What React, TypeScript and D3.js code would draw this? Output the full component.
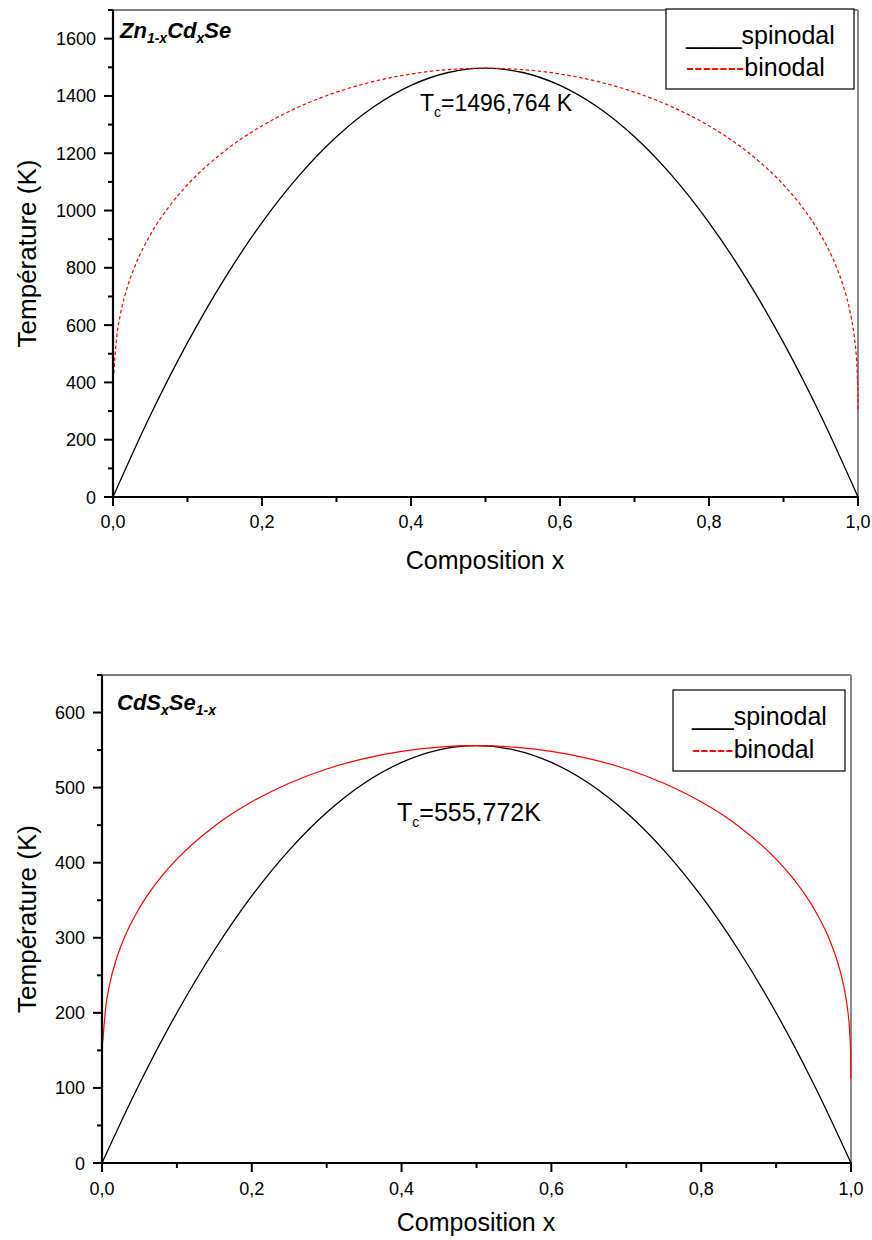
import React from 'react';
import * as d3 from 'd3';

// ---------- data ----------
const spinodalX = [0, 0.05, 0.1, 0.15, 0.2, 0.25, 0.3, 0.35, 0.4, 0.45, 0.5, 0.55, 0.6, 0.65, 0.7, 0.75, 0.8, 0.85, 0.9, 0.95, 1.0];
const spinodalZnCdSe = [0, 284.4, 538.8, 763.3, 957.9, 1122.6, 1257.3, 1362.1, 1436.9, 1481.8, 1496.8, 1481.8, 1436.9, 1362.1, 1257.3, 1122.6, 957.9, 763.3, 538.8, 284.4, 0];
const spinodalCdSSe = [0, 105.6, 200.1, 283.4, 355.7, 416.8, 466.8, 505.8, 533.5, 550.2, 555.8, 550.2, 533.5, 505.8, 466.8, 416.8, 355.7, 283.4, 200.1, 105.6, 0];

const binodalX = [0.001, 0.005, 0.01, 0.02, 0.03, 0.05, 0.075, 0.1, 0.15, 0.2, 0.25, 0.3, 0.35, 0.4, 0.45, 0.5, 0.55, 0.6, 0.65, 0.7, 0.75, 0.8, 0.85, 0.9, 0.925, 0.95, 0.97, 0.98, 0.99, 0.995, 0.998, 0.9995, 0.99995];
const binodalZnCdSe = [432.6, 559.9, 638.4, 738.4, 809.5, 915.0, 1012.8, 1089.9, 1208.0, 1295.6, 1362.4, 1413.2, 1450.7, 1476.6, 1491.8, 1496.8, 1491.8, 1476.6, 1450.7, 1413.2, 1362.4, 1295.6, 1208.0, 1089.9, 1012.8, 915.0, 809.5, 738.4, 638.4, 559.9, 479.9, 393.5, 302.2];
const binodalCdSSe = [160.6, 207.9, 237.1, 274.2, 300.6, 339.8, 376.1, 404.7, 448.6, 481.1, 505.9, 524.8, 538.7, 548.3, 553.9, 555.8, 553.9, 548.3, 538.7, 524.8, 505.9, 481.1, 448.6, 404.7, 376.1, 339.8, 300.6, 274.2, 237.1, 207.9, 178.2, 146.1, 112.2];

const xMajorTicks = [0, 0.2, 0.4, 0.6, 0.8, 1.0];
const xTickLabels = ['0,0', '0,2', '0,4', '0,6', '0,8', '1,0'];
const xMinorTicks = [0.1, 0.3, 0.5, 0.7, 0.9];

const yMajorTop = [0, 200, 400, 600, 800, 1000, 1200, 1400, 1600];
const yMinorTop = [100, 300, 500, 700, 900, 1100, 1300, 1500, 1700];
const yMajorBottom = [0, 100, 200, 300, 400, 500, 600];
const yMinorBottom = [50, 150, 250, 350, 450, 550, 650];

const FONT = '"Liberation Sans", Arial, Helvetica, sans-serif';

type PanelProps = {
  left: number; right: number; top: number; bottom: number;
  yMax: number;
  yMajor: number[]; yMinor: number[];
  spin: number[]; bin: number[];
  dashed: boolean;
  title: React.ReactNode;
  legend: {
    x: number; y1: number; y2: number; box: [number, number, number, number];
    under: string; dash: string;
  };
  tc: { x: number; y: number; value: string; size: number };
  xLabelY: number;
  xTitleX: number; xTitleY: number;
};

function Panel(p: PanelProps) {
  const x = d3.scaleLinear().domain([0, 1]).range([p.left, p.right]);
  const y = d3.scaleLinear().domain([0, p.yMax]).range([p.bottom, p.top]);
  const spinLine = d3.line<number>().x((_, i) => x(spinodalX[i])).y(d => y(d)).curve(d3.curveCatmullRom.alpha(0.5));
  const binLine = d3.line<number>().x((_, i) => x(binodalX[i])).y(d => y(d)).curve(d3.curveMonotoneX);
  const [bx, by, bw, bh] = p.legend.box;
  const L = p.legend;
  return (
    <g fontFamily={FONT}>
      {/* frame top/right */}
      <line x1={p.left} x2={p.right} y1={p.top} y2={p.top} stroke="#555" strokeWidth={1.3} />
      <line x1={p.right} x2={p.right} y1={p.top} y2={p.bottom} stroke="#888" strokeWidth={2} />
      {/* curves */}
      <path d={spinLine(p.spin) || ''} fill="none" stroke="#000" strokeWidth={1.3} />
      <path d={binLine(p.bin) || ''} fill="none" stroke="#ff0000" strokeWidth={1.2} strokeDasharray={p.dashed ? '3.5,2.5' : undefined} />
      {/* axes */}
      <line x1={p.left} x2={p.right + 1} y1={p.bottom} y2={p.bottom} stroke="#000" strokeWidth={2.2} />
      <line x1={p.left} x2={p.left} y1={p.top} y2={p.bottom + 1} stroke="#000" strokeWidth={2.2} />
      {xMajorTicks.map((t, i) => (
        <g key={'xm' + i}>
          <line x1={x(t)} x2={x(t)} y1={p.bottom} y2={p.bottom + 9} stroke="#000" strokeWidth={2} />
          <text x={x(t)} y={p.xLabelY} fontSize={18} textAnchor="middle">{xTickLabels[i]}</text>
        </g>
      ))}
      {xMinorTicks.map((t, i) => (
        <line key={'xn' + i} x1={x(t)} x2={x(t)} y1={p.bottom} y2={p.bottom + 5} stroke="#000" strokeWidth={2} />
      ))}
      {p.yMajor.map((t, i) => (
        <g key={'ym' + i}>
          <line x1={p.left - 9} x2={p.left} y1={y(t)} y2={y(t)} stroke="#000" strokeWidth={2} />
          <text x={p.left - 17} y={y(t) + 6.5} fontSize={18} textAnchor="end">{String(t)}</text>
        </g>
      ))}
      {p.yMinor.map((t, i) => (
        <line key={'yn' + i} x1={p.left - 5} x2={p.left} y1={y(t)} y2={y(t)} stroke="#000" strokeWidth={2} />
      ))}
      {/* axis titles */}
      <text x={p.xTitleX} y={p.xTitleY} fontSize={25} textAnchor="middle">Composition x</text>
      <text transform={`translate(36,${(p.top + p.bottom) / 2}) rotate(-90)`} fontSize={26} textAnchor="middle">Température (K)</text>
      {/* title */}
      {p.title}
      {/* Tc label */}
      <text x={p.tc.x} y={p.tc.y} fontSize={p.tc.size}>
        T<tspan fontSize={14} dy={6}>c</tspan><tspan dy={-6}>{p.tc.value}</tspan>
      </text>
      {/* legend */}
      <rect x={bx} y={by} width={bw} height={bh} fill="#fff" stroke="#000" strokeWidth={1.2} />
      <text x={L.x} y={L.y1} fontSize={25} fill="#000">{L.under + 'spinodal'}</text>
      <text x={L.x} y={L.y2} fontSize={25} fill="#000">
        <tspan fill="#ff0000">{L.dash}</tspan>binodal
      </text>
    </g>
  );
}

export default function App() {
  return (
    <svg width={872} height={1240} style={{ position: 'absolute', left: 0, top: 0, background: '#fff' }}>
      <rect x={0} y={0} width={872} height={1240} fill="#fff" />
      <Panel
        left={113} right={858} top={10} bottom={497} yMax={1700}
        yMajor={yMajorTop} yMinor={yMinorTop}
        spin={spinodalZnCdSe} bin={binodalZnCdSe} dashed={true}
        title={
          <text x={120} y={38} fontSize={22} fontWeight="bold" fontStyle="italic" fontFamily={FONT}>
            Zn<tspan fontSize={14} dy={5}>1-x</tspan><tspan dy={-5}>Cd</tspan><tspan fontSize={14} dy={5}>x</tspan><tspan dy={-5}>Se</tspan>
          </text>
        }
        legend={{ x: 686, y1: 44, y2: 76, box: [666, 9, 188, 80], under: '____', dash: '-------' }}
        tc={{ x: 420, y: 111, value: '=1496,764 K', size: 23 }}
        xLabelY={528} xTitleX={485} xTitleY={569}
      />
      <Panel
        left={102} right={851} top={675} bottom={1163} yMax={650}
        yMajor={yMajorBottom} yMinor={yMinorBottom}
        spin={spinodalCdSSe} bin={binodalCdSSe} dashed={false}
        title={
          <text x={117} y={710} fontSize={22} fontWeight="bold" fontStyle="italic" fontFamily={FONT}>
            CdS<tspan fontSize={14} dy={5}>x</tspan><tspan dy={-5}>Se</tspan><tspan fontSize={14} dy={5}>1-x</tspan>
          </text>
        }
        legend={{ x: 692, y1: 725, y2: 758, box: [673, 690, 172, 81], under: '___', dash: '-----' }}
        tc={{ x: 397, y: 821, value: '=555,772K', size: 25 }}
        xLabelY={1195} xTitleX={476} xTitleY={1231}
      />
    </svg>
  );
}
